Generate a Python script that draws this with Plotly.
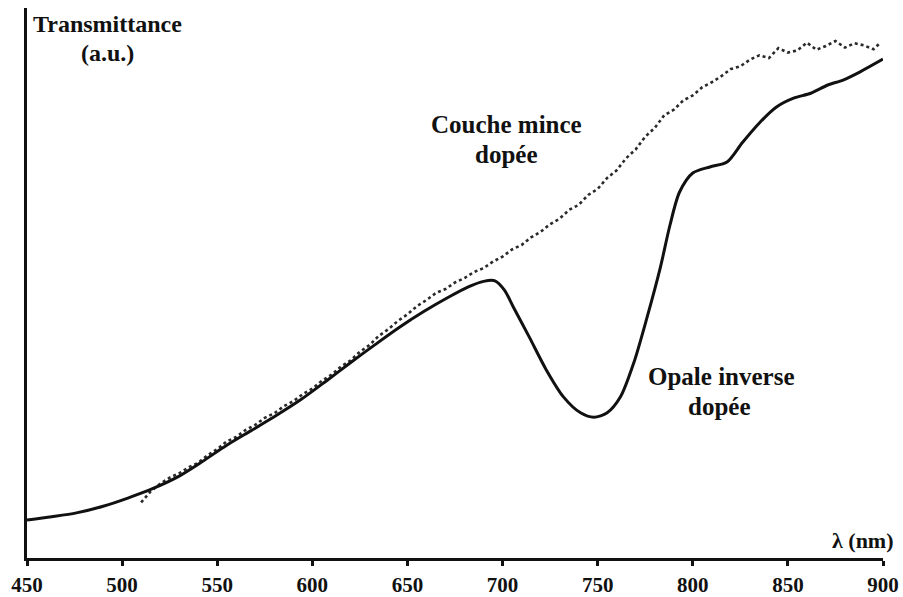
import plotly.graph_objects as go

# Inverse opal (doped) transmittance, solid curve
opal_nm = [450, 463, 476, 490, 503, 516, 529, 542, 555, 568, 581, 594, 607, 620,
           633, 646, 659, 672, 682, 690, 696, 701, 706, 714, 723, 732, 741, 748,
           755, 762, 769, 776, 783, 788, 793, 800, 809, 818, 826, 835, 844, 853,
           862, 871, 879, 888, 900]
opal_T = [6.9, 7.5, 8.2, 9.4, 10.9, 12.6, 14.7, 17.5, 20.5, 23.2, 25.9, 28.8, 32.1, 35.5,
          38.8, 42.0, 44.9, 47.5, 49.3, 50.3, 50.4, 48.7, 45.4, 40.2, 34.2, 29.3, 26.4, 25.6,
          26.4, 29.3, 35.5, 43.8, 52.9, 60.5, 66.5, 70.0, 71.1, 72.0, 75.5, 79.1, 82.0, 83.6,
          84.5, 86.0, 86.9, 88.4, 90.7]

# Doped thin film transmittance, measured points
film_nm = [510, 515, 520, 525, 530, 535, 540, 545, 550, 555, 560, 565, 570, 575, 580,
           585, 590, 595, 600, 605, 610, 615, 620, 625, 630, 635, 640, 645, 650, 655,
           660, 665, 670, 675, 680, 685, 690, 695, 700, 705, 710, 715, 720, 725, 730,
           735, 740, 745, 750, 755, 760, 765, 770, 775, 780, 785, 790, 795, 800, 805,
           810, 815, 820, 825, 830, 835, 840, 845, 850, 855, 860, 865, 870, 875, 880,
           885, 890, 895, 898]
film_T = [10.1, 12.1, 13.5, 14.6, 15.4, 16.5, 17.3, 18.7, 19.8, 21.2, 22.0, 23.3, 24.2, 25.5, 26.3,
          27.6, 28.5, 29.8, 30.8, 32.2, 33.3, 34.8, 35.9, 37.5, 38.7, 40.4, 41.6, 43.1, 44.3, 45.8,
          46.9, 48.2, 48.9, 50.1, 50.9, 52.0, 52.7, 53.9, 54.8, 56.1, 56.9, 58.3, 59.3, 60.7, 61.7,
          63.3, 64.2, 66.0, 67.1, 69.1, 70.5, 72.7, 74.3, 76.6, 78.2, 80.5, 81.5, 83.2, 84.1, 85.6,
          86.5, 87.6, 88.9, 89.4, 90.6, 91.4, 90.9, 92.7, 91.9, 92.3, 93.7, 92.4, 93.1, 94.0, 92.8,
          93.6, 93.2, 92.5, 93.5]

tick_vals = [450, 500, 550, 600, 650, 700, 750, 800, 850, 900]

FONT = "Liberation Serif"
INK = "#111111"

fig = go.Figure()
fig.add_trace(go.Scatter(
    x=film_nm, y=film_T, mode="lines",
    line=dict(color="#2a2a2a", width=2.6, dash="dot"),
    showlegend=False, hoverinfo="skip",
))
fig.add_trace(go.Scatter(
    x=opal_nm, y=opal_T, mode="lines",
    line=dict(color=INK, width=3, shape="spline", smoothing=0.8),
    showlegend=False, hoverinfo="skip",
))

L, R, T, B = 27, 20, 8, 39
W, H = 903, 597
pw, ph = W - L - R, H - T - B


def px(x):
    return (x - L) / pw


def py(y):
    return (H - B - y) / ph


def label(text, x, y, size, xanchor="center"):
    fig.add_annotation(
        text=f"<b>{text}</b>", x=px(x), y=py(y), xref="paper", yref="paper",
        xanchor=xanchor, yanchor="middle", showarrow=False,
        font=dict(family=FONT, size=size, color=INK),
    )


label("Transmittance", 107, 24, 24)
label("(a.u.)", 107, 53, 24)
label("Couche mince", 506, 124, 25)
label("dopée", 506, 155, 25)
label("Opale inverse", 721, 376, 25)
label("dopée", 719, 406, 25)
label("λ (nm)", 896, 540, 22, xanchor="right")

fig.update_layout(
    width=W, height=H,
    margin=dict(l=L, r=R, t=T, b=B, autoexpand=False),
    paper_bgcolor="white", plot_bgcolor="white",
    xaxis=dict(
        range=[450, 900], tickvals=tick_vals, ticktext=[f"<b>{v}</b>" for v in tick_vals],
        showgrid=False, zeroline=False, showline=True, linecolor=INK, linewidth=2.5,
        ticks="outside", ticklen=5, tickwidth=2.5, tickcolor=INK,
        ticklabelstandoff=1, automargin=False,
        tickfont=dict(family=FONT, size=21, color=INK),
    ),
    yaxis=dict(
        range=[0, 100], showgrid=False, zeroline=False, showline=True,
        linecolor=INK, linewidth=3, showticklabels=False, ticks="", automargin=False,
    ),
)

fig.write_html("out.html")
